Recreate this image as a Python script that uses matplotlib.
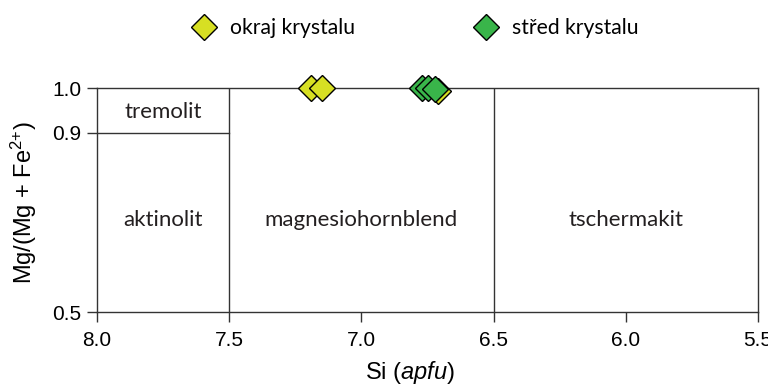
import matplotlib.pyplot as plt

# Si (apfu) a Mg/(Mg + Fe2+) pro okraj a střed krystalu
okraj_si = [7.19, 7.15, 6.71]
okraj_mg = [1.0, 1.0, 0.993]
stred_si = [6.77, 6.75, 6.72]
stred_mg = [1.0, 1.0, 0.998]

x_ticks = [8.0, 7.5, 7.0, 6.5, 6.0, 5.5]
y_ticks = [0.5, 0.9, 1.0]

fields = [
    ("tremolit", 7.75, 0.947),
    ("aktinolit", 7.75, 0.705),
    ("magnesiohornblend", 7.0, 0.705),
    ("tschermakit", 6.0, 0.705),
]

plt.rcParams['font.family'] = ['Liberation Sans', 'DejaVu Sans']
plt.rcParams['mathtext.fontset'] = 'custom'
plt.rcParams['mathtext.rm'] = 'Liberation Sans'
plt.rcParams['mathtext.it'] = 'Liberation Sans:italic'
line_col = "#333333"
label_font = "Lato"

fig = plt.figure(figsize=(7.68, 3.85), dpi=100)
ax = fig.add_axes([0.1263, 0.1896, 0.8607, 0.5818])

ax.set_xlim(8.0, 5.5)
ax.set_ylim(0.5, 1.0)

# hranice polí klasifikace amfibolů
ax.plot([7.5, 7.5], [0.5, 1.0], color=line_col, lw=1.0)
ax.plot([6.5, 6.5], [0.5, 1.0], color=line_col, lw=1.0)
ax.plot([8.0, 7.5], [0.9, 0.9], color=line_col, lw=1.0)

for name, fx, fy in fields:
    ax.text(fx, fy, name, ha="center", va="center", fontsize=16,
            family=label_font, color="#231f20")

ax.plot(okraj_si, okraj_mg, linestyle="none", marker="D", ms=13,
        mfc="#d7df23", mec="black", mew=1.0, clip_on=False, zorder=5,
        label="okraj krystalu")
ax.plot(stred_si, stred_mg, linestyle="none", marker="D", ms=13,
        mfc="#39b54a", mec="black", mew=1.0, clip_on=False, zorder=6,
        label="střed krystalu")

for sp in ax.spines.values():
    sp.set_color(line_col)
    sp.set_linewidth(1.0)

ax.set_xticks(x_ticks)
ax.set_xticklabels([f"{v:.1f}" for v in x_ticks])
ax.set_yticks(y_ticks)
ax.set_yticklabels([f"{v:.1f}" for v in y_ticks])
ax.tick_params(direction="out", length=7, width=1.0, color=line_col,
               labelsize=15)
ax.tick_params(axis="x", pad=7)
ax.tick_params(axis="y", pad=4)

ax.set_xlabel("Si ($\\it{apfu}$)", fontsize=17)
ax.xaxis.set_label_coords(0.4735, -0.21)
ax.set_ylabel("Mg/(Mg + Fe$^{2{+}}$)", fontsize=17)
ax.yaxis.set_label_coords(-0.088, 0.49)

fig.legend(loc="center", bbox_to_anchor=(0.5415, 0.927), ncol=2,
           frameon=False, columnspacing=5.71, handlelength=1.0,
           handletextpad=0.73, prop={"family": label_font, "size": 15.2})

fig.savefig("out.png", dpi=100)
